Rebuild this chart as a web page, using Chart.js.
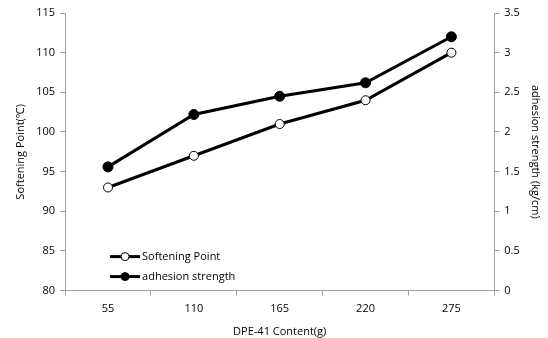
<!DOCTYPE html>
<html>
<head>
<meta charset="utf-8">
<script src="https://cdn.jsdelivr.net/npm/chart.js@4"></script>
<style>
  body { margin: 0; background: #fff; }
  #wrap { width: 548px; height: 338px; }
</style>
</head>
<body>
<div id="wrap"><canvas id="myChart"></canvas></div>
<script>
const contentLabels = ['55', '110', '165', '220', '275'];
const softeningPoint = [93, 97, 101, 104, 110];
const adhesionStrength = [1.56, 2.22, 2.45, 2.62, 3.2];

const fontFamily = "'Open Sans', 'Noto Sans', sans-serif";
const axisGray = '#a0a0a0';

// legend drawn inside the plot, bottom-left, like the original
const innerLegend = {
    id: 'innerLegend',
    afterDraw(chart) {
        const c = chart.ctx;
        const items = chart.data.datasets;
        const x0 = chart.chartArea.left + 45;
        let y = chart.chartArea.bottom - 34;
        c.save();
        c.font = '11px ' + fontFamily;
        c.textBaseline = 'middle';
        items.forEach(function (ds) {
            c.strokeStyle = '#000';
            c.lineWidth = 3;
            c.beginPath();
            c.moveTo(x0, y);
            c.lineTo(x0 + 30, y);
            c.stroke();
            c.beginPath();
            c.arc(x0 + 15, y, 4, 0, Math.PI * 2);
            c.fillStyle = ds.pointBackgroundColor;
            c.fill();
            c.lineWidth = 1;
            c.stroke();
            c.fillStyle = '#000';
            c.fillText(ds.label, x0 + 32, y);
            y += 20;
        });
        c.restore();
    }
};

new Chart(document.getElementById('myChart'), {
    type: 'line',
    data: {
        labels: contentLabels,
        datasets: [{
                label: 'Softening Point',
                data: softeningPoint,
                yAxisID: 'y',
                borderColor: '#000',
                borderWidth: 3,
                pointRadius: 4.5,
                pointBorderWidth: 1,
                pointBackgroundColor: '#fff',
                pointBorderColor: '#000'
            },
            {
                label: 'adhesion strength',
                data: adhesionStrength,
                yAxisID: 'y1',
                borderColor: '#000',
                borderWidth: 3,
                pointRadius: 5,
                pointBorderWidth: 1,
                pointBackgroundColor: '#000',
                pointBorderColor: '#000'
            }
        ]
    },
    options: {
        responsive: true,
        maintainAspectRatio: false,
        animation: false,
        layout: {
            padding: { top: 13, right: 2, left: 10, bottom: 0 }
        },
        scales: {
            x: {
                offset: true,
                grid: { display: true, drawOnChartArea: false, offset: true, color: axisGray, tickLength: 5 },
                border: { color: axisGray },
                ticks: { color: '#000', padding: 7, font: { family: fontFamily, size: 11 } },
                title: { display: true, text: 'DPE-41 Content(g)', color: '#000', font: { family: fontFamily, size: 11 }, padding: { top: 2, bottom: 0 } }
            },
            y: {
                position: 'left',
                min: 80,
                max: 115,
                ticks: { stepSize: 5, color: '#000', padding: 5, font: { family: fontFamily, size: 11 } },
                grid: { drawOnChartArea: false, color: axisGray, tickLength: 5 },
                border: { color: axisGray },
                title: { display: true, text: 'Softening Point(℃)', color: '#000', font: { family: fontFamily, size: 11 } }
            },
            y1: {
                position: 'right',
                min: 0,
                max: 3.5,
                ticks: {
                    stepSize: 0.5,
                    color: '#000',
                    padding: 5,
                    font: { family: fontFamily, size: 11 },
                    callback: function (value) {
                        return String(Math.round(value * 10) / 10);
                    }
                },
                grid: { drawOnChartArea: false, color: axisGray, tickLength: 5 },
                border: { color: axisGray },
                title: { display: true, text: 'adhesion strength (kg/cm)', color: '#000', font: { family: fontFamily, size: 11 } }
            }
        },
        plugins: {
            legend: { display: false },
            tooltip: { enabled: false }
        }
    },
    plugins: [innerLegend]
});
</script>
</body>
</html>
